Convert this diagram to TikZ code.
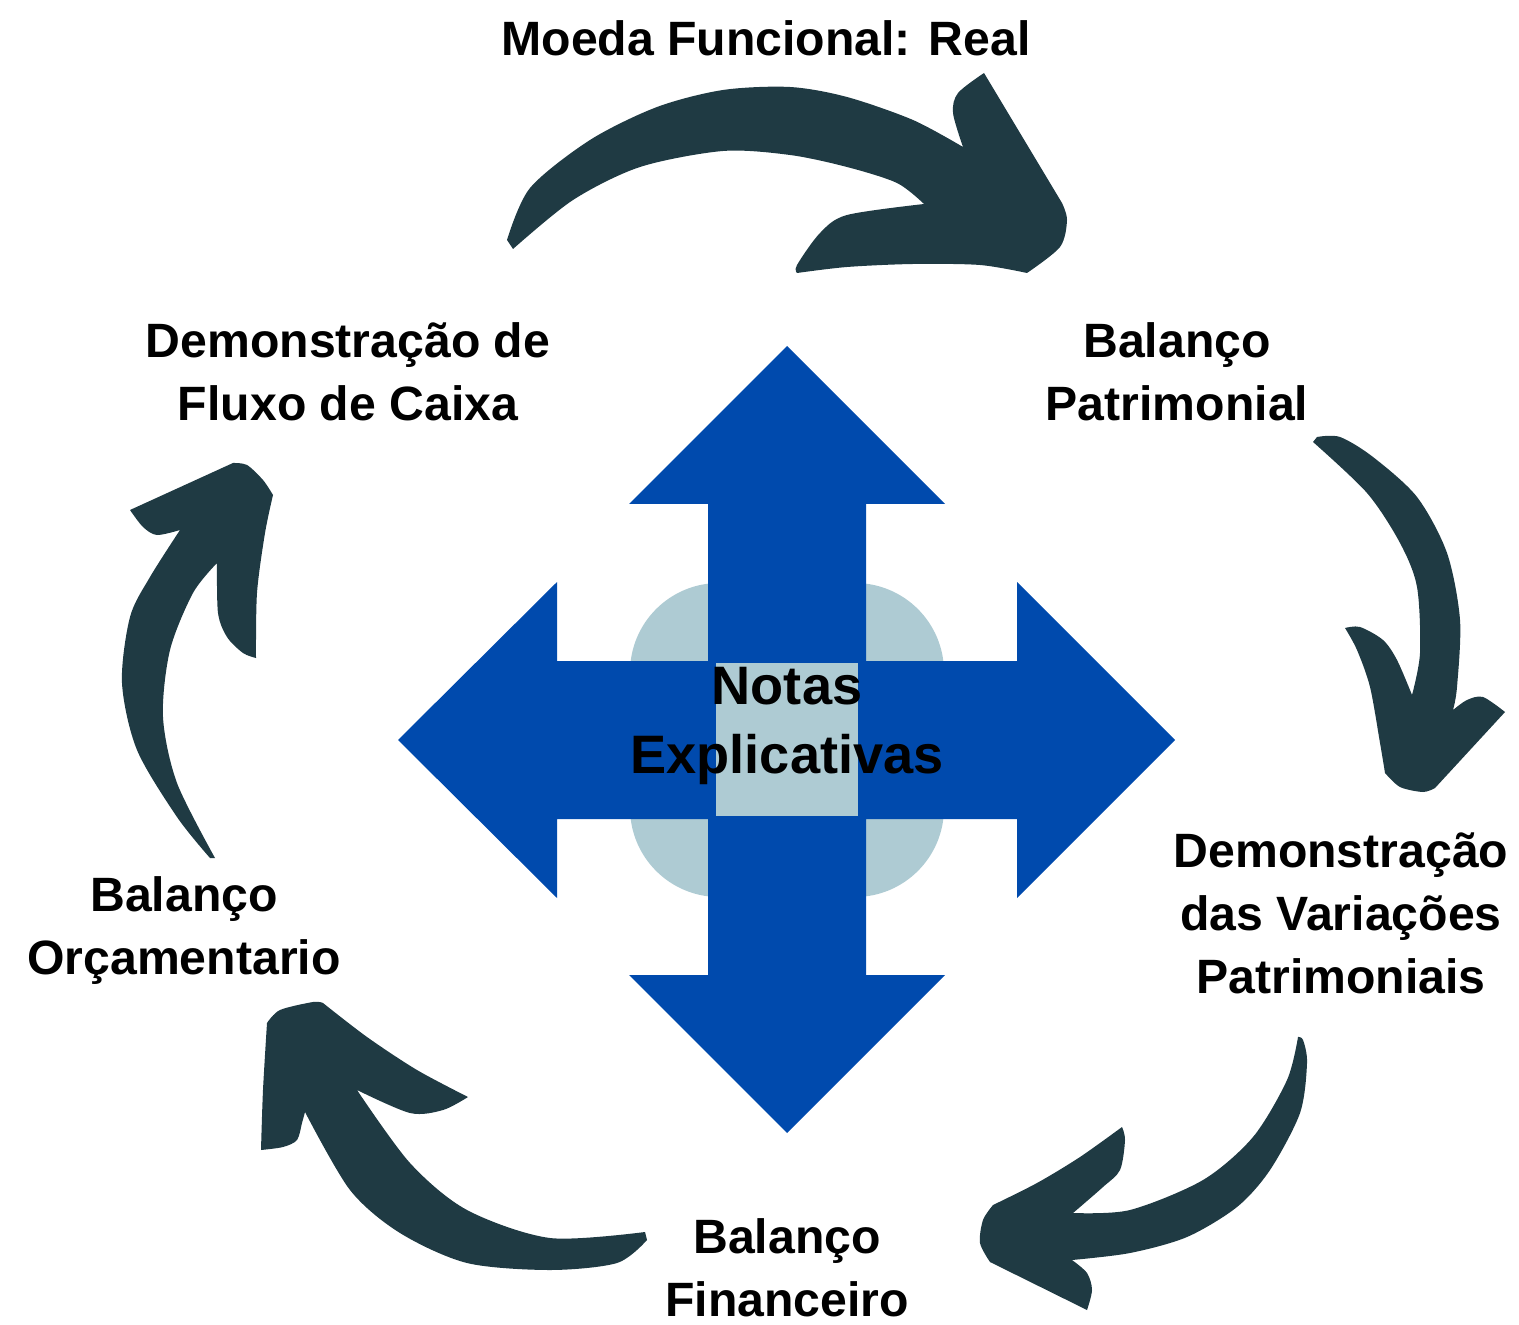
\documentclass[tikz,border=0pt]{standalone}
\usepackage{fontspec}
\setmainfont{Liberation Sans}
\definecolor{crossblue}{HTML}{004AAD}
\definecolor{paleteal}{HTML}{AECBD3}
\definecolor{darkteal}{HTML}{1F3A43}

\begin{document}
\begin{tikzpicture}[
    x=0.01cm, y=-0.01cm,
    lbl/.style={align=center, inner sep=0pt, font=\bfseries\fontsize{13.7}{17.9}\selectfont},
    hubtext/.style={align=center, inner sep=0pt, font=\bfseries\fontsize{15.4}{19.6}\selectfont},
    curl/.style={fill=darkteal}
]
\useasboundingbox (0,0) rectangle (1519,1325);

% Hub
\fill[paleteal, rounded corners=0.89cm] (630,583) rectangle (944,897);
\fill[crossblue] (787,346) -- (945,504) -- (866,504) -- (866,661) -- (1017,661) -- (1017,582)
  -- (1175,740) -- (1017,898) -- (1017,819) -- (866,819) -- (866,975) -- (945,975)
  -- (787,1133) -- (629,975) -- (708,975) -- (708,819) -- (557,819) -- (557,898)
  -- (398,740) -- (557,582) -- (557,661) -- (708,661) -- (708,504) -- (629,504) -- cycle;
\fill[paleteal] (716,663) rectangle (858,816);

% Nodes
\node (notas) [hubtext] at (787,726) {Notas\\Explicativas};
\node (title) [lbl] at (766,38) {Moeda Funcional: Real};
\node (dfc) [lbl] at (348,372) {Demonstração de\\Fluxo de Caixa};
\node (bpat) [lbl] at (1177,372) {Balanço\\Patrimonial};
\node (dvp) [lbl] at (1341,913) {Demonstração\\das Variações\\Patrimoniais};
\node (bfin) [lbl] at (787,1268) {Balanço\\Financeiro};
\node (borc) [lbl] at (184,931) {Balanço\\Orçamentario};

% Curved arrows
\fill[curl] (513,249)
  -- plot[smooth] coordinates {(507,240) (530,188) (590,140) (657,107) (723,90) (790,87) (847,97) (913,120) (963,147)}
  -- plot[smooth] coordinates {(963,147) (953,113) (958,93) (984,73)}
  -- (1062,203)
  -- plot[smooth] coordinates {(1062,203) (1067,220) (1060,247) (1027,273)}
  -- plot[smooth] coordinates {(1027,273) (980,265) (913,264) (847,267) (797,273)}
  -- plot[smooth] coordinates {(797,273) (797,265) (820,233) (847,215) (924,204)}
  -- plot[smooth] coordinates {(924,204) (897,183) (847,167) (790,155) (723,151) (640,167) (573,200) (513,249)}
  -- cycle;
\fill[curl] (1317,437)
  -- plot[smooth] coordinates {(1317,437) (1340,437) (1373,457) (1417,497) (1447,553) (1460,620) (1457,687) (1453,710)}
  -- plot[smooth] coordinates {(1453,710) (1467,700) (1483,697) (1505,712)}
  -- (1435,788)
  -- plot[smooth] coordinates {(1435,788) (1423,792) (1400,787) (1385,773)}
  -- plot[smooth] coordinates {(1385,773) (1380,743) (1370,687) (1357,650) (1345,628)}
  -- plot[smooth] coordinates {(1345,628) (1360,627) (1383,640) (1397,660) (1412,695)}
  -- plot[smooth] coordinates {(1412,695) (1420,653) (1417,587) (1400,543) (1367,493) (1313,442)}
  -- cycle;
\fill[curl] (1298,1037)
  -- plot[smooth] coordinates {(1298,1037) (1303,1040) (1307,1063) (1300,1113) (1270,1170) (1237,1207) (1187,1237) (1130,1253) (1072,1260)}
  -- plot[smooth] coordinates {(1072,1260) (1087,1273) (1092,1290) (1087,1310)}
  -- (990,1262)
  -- plot[smooth] coordinates {(990,1262) (980,1243) (983,1220) (993,1205)}
  -- plot[smooth] coordinates {(993,1205) (1037,1183) (1080,1157) (1122,1127)}
  -- plot[smooth] coordinates {(1122,1127) (1125,1140) (1120,1170) (1103,1187) (1073,1213)}
  -- plot[smooth] coordinates {(1073,1213) (1130,1210) (1203,1180) (1253,1137) (1287,1080) (1298,1037)}
  -- cycle;
\fill[curl] (647,1240)
  -- plot[smooth] coordinates {(645,1232) (550,1238) (467,1210) (410,1163) (357,1090)}
  -- plot[smooth] coordinates {(357,1090) (410,1113) (443,1110) (468,1097)}
  -- plot[smooth] coordinates {(468,1097) (417,1070) (367,1037) (323,1003)}
  -- plot[smooth] coordinates {(323,1003) (313,1002) (280,1010) (267,1023)}
  -- plot[smooth] coordinates {(267,1023) (263,1090) (261,1150)}
  -- plot[smooth] coordinates {(261,1150) (283,1147) (297,1140) (302,1123) (305,1112)}
  -- plot[smooth] coordinates {(305,1112) (350,1190) (400,1233) (467,1263) (550,1270) (617,1263) (647,1240)}
  -- cycle;
\fill[curl] (215,858)
  -- plot[smooth] coordinates {(210,858) (177,817) (137,750) (122,683) (130,617) (150,577) (180,530)}
  -- plot[smooth] coordinates {(180,530) (157,535) (143,527) (130,510)}
  -- (233,463)
  -- plot[smooth] coordinates {(233,463) (247,465) (263,480) (273,495)}
  -- plot[smooth] coordinates {(273,495) (265,533) (257,593) (256,658)}
  -- plot[smooth] coordinates {(256,658) (243,653) (227,637) (218,613) (217,563)}
  -- plot[smooth] coordinates {(217,563) (193,593) (170,650) (163,717) (177,783) (215,858)}
  -- cycle;

\end{tikzpicture}
\end{document}
